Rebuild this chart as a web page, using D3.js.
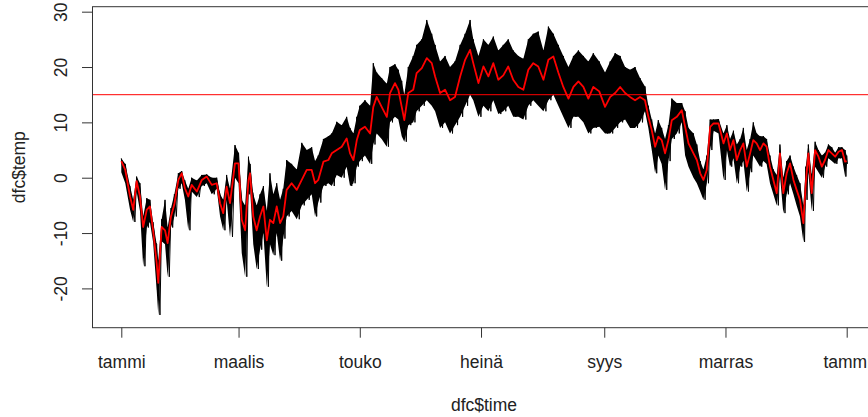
<!DOCTYPE html>
<html>
<head>
<meta charset="utf-8">
<script src="https://cdn.jsdelivr.net/npm/d3@7"></script>
<style>
  html, body { margin: 0; padding: 0; background: #fff; }
  svg { display: block; }
  text { font-family: "Liberation Sans", Arial, sans-serif; fill: #222; }
</style>
</head>
<body>
<svg id="chart" width="868" height="417"></svg>
<script>
// day of year (0 = 1 Jan)
var days = [0, 2, 4.4, 6, 7.7, 9.4, 11, 12.8, 14.4, 16, 17.8, 18.6, 20.3, 22, 23.3, 25, 26.7, 28.7, 30.4, 32, 33.7, 35.4, 38, 40.5, 43, 45.5, 48, 49.7, 51.3, 53, 54.7, 57.2, 59,
  60.6, 62.3, 64, 64.8, 66.4, 68.1, 69.8, 71.5, 73.2, 74.8, 76.5, 78.2, 79.9, 81.5, 83.2, 85.7, 88.3, 90.8, 93.3, 95.8, 97.5, 99.1, 101.7, 104.2, 105.9, 108.4, 110.9, 113.4, 115.1, 116.8, 118.5,
  120, 122.6, 125.2, 126.8, 128.5, 131, 133.6, 135.2, 137.7, 139.4, 141.1, 142.4, 144.4, 146.9, 148.6, 151.2, 153.7, 156.2, 157.9, 160.4, 162.9, 165.4, 167.9, 170.5, 173, 175.5, 177.1,
  179.7, 182.2, 184.7, 187.2, 189.7, 192.2, 194.7, 197.2, 199.8, 202.3, 204.8, 207.3, 209.8, 212.4, 214.9, 217.4, 219.9, 222.4, 225, 227.5, 230, 232.5, 235, 237.5, 240.5,
  243.4, 246, 248.5, 251, 253.5, 256, 258.5, 261, 263.5, 265.2, 266.9, 268.6, 270.2, 271.9, 273.6, 275.3, 277, 279.5, 282, 283.7, 285.4, 287.9, 289.6, 291.3, 292.9, 294.6, 296.3, 298, 300.5,
  303, 304.7, 306.3, 308, 309.7, 311.4, 313, 314.7, 316.4, 318, 319.7, 321.4, 323.1, 324.7, 326.4, 328.1, 329.8, 331.4, 333.1, 334.8, 336.5, 338.2, 339.8, 341.5, 343.2, 344.4, 345.7, 347.4, 349.1, 350.8, 352.5, 354.1, 355.8, 357.5, 359.2, 360.9, 362.6, 364.2, 365];

// smoothed temperature (red line)
var tMean = [3.0, 1.4, -3.4, -5.8, -0.6, -3.4, -8.9, -5.8, -5.2, -9.5, -15.4, -19.0, -8.9, -9.5, -11.8, -7.0, -4.8, -0.4, 0.8, -1.9, -3.4, -1.3, -2.5, -0.4, 0.2, -1.3, -1.0, -4.6, -6.4, -1.6, -4.6, 2.6, 2.6,
  -7.6, -9.5, -0.4, 0.8, -7.0, -9.5, -7.0, -5.2, -11.3, -7.6, -8.2, -5.2, -8.2, -7.0, -2.2, -1.0, -2.2, -0.4, 1.4, 1.4, -1.0, -0.4, 2.9, 3.2, 4.4, 5.0, 5.6, 7.1, 4.4, 3.2, 6.8,
  8.6, 9.2, 8.0, 12.8, 14.6, 12.8, 11.0, 15.3, 17.1, 15.9, 12.8, 10.4, 15.3, 15.9, 18.9, 19.8, 21.6, 20.7, 18.3, 15.3, 15.9, 14.0, 14.6, 18.3, 21.3, 23.1, 20.7,
  17.1, 20.1, 18.3, 20.7, 17.7, 18.5, 20.1, 17.7, 16.4, 15.9, 19.5, 20.7, 20.1, 17.7, 21.3, 21.9, 19.0, 16.4, 14.3, 16.4, 17.4, 16.4, 14.3, 16.4, 15.6,
  12.8, 14.6, 15.3, 16.4, 15.3, 14.6, 14.0, 14.6, 14.0, 11.0, 8.6, 5.6, 7.4, 6.8, 4.4, 6.8, 10.4, 11.0, 12.2, 9.2, 6.2, 4.4, 3.2, 0.8, -0.4, 1.4, 9.2, 9.8, 9.8,
  6.2, 8.0, 5.0, 6.8, 3.2, 5.0, 6.2, 2.0, 4.4, 6.8, 6.2, 5.0, 6.2, 5.6, 2.0, -0.4, -2.8, 4.4, -2.8, 0.8, 2.6, -0.4, -2.2, -4.0, -8.2, -1.0, 4.4, -2.8, 5.0, 3.8, 2.0, 3.2, 5.0, 4.4, 3.8, 4.7, 5.0, 2.9, 3.0];

// lower and upper edge of the hourly (black) trace
var tLow = [1.0, -1.0, -5.8, -8.0, -2.5, -6.0, -16.0, -9.0, -8.0, -11.6, -20.3, -24.8, -11.5, -12.0, -17.9, -9.0, -7.0, -2.0, -1.0, -4.0, -9.5, -2.5, -3.5, -1.5, -1.0, -3.0, -2.0, -7.0, -9.5, -4.0, -10.7, 0.0, -1.0,
  -13.6, -17.9, -3.0, -2.0, -12.0, -16.5, -13.0, -10.0, -19.7, -12.0, -14.0, -10.0, -15.0, -11.0, -7.0, -6.0, -7.5, -5.0, -4.0, -3.0, -7.0, -4.5, -1.5, -1.0, -1.5, 0.5, 0.0, 2.0, -1.5, -1.0, 2.0,
  3.0, 4.0, 2.5, 6.0, 8.0, 7.0, 5.6, 10.0, 11.0, 10.5, 7.5, 6.5, 9.5, 10.0, 12.0, 13.0, 14.0, 13.0, 12.0, 9.0, 10.0, 8.0, 9.5, 11.0, 13.0, 15.0, 14.0,
  11.0, 13.0, 12.0, 14.0, 11.5, 12.0, 13.0, 11.0, 11.0, 10.5, 13.0, 14.0, 13.0, 12.0, 14.0, 15.0, 13.0, 11.0, 9.0, 11.0, 11.0, 10.0, 8.0, 9.0, 9.2,
  8.0, 8.0, 9.0, 10.0, 10.5, 9.0, 9.0, 10.0, 12.0, 9.0, 5.0, 0.8, 4.0, 2.5, -2.2, 3.0, 7.0, 8.0, 10.0, 4.0, 2.0, 0.0, -1.0, -2.5, -4.0, -1.0, 5.0, 8.5, 8.0,
  -0.4, 5.0, 2.0, 3.5, -1.0, 2.0, 3.0, -2.5, 1.0, 4.0, 3.0, 2.0, 3.0, 2.5, -1.0, -3.0, -5.0, 0.5, -6.4, -3.0, -1.0, -3.0, -5.0, -7.0, -11.6, -4.0, 1.0, -6.0, 2.0, 1.0, 0.0, 2.0, 3.5, 3.0, 2.5, 3.5, 3.5, 0.2, 2.5];

var tHigh = [3.5, 2.5, -1.5, -4.0, 0.2, -1.0, -7.0, -3.7, -4.0, -8.0, -12.0, -15.0, -7.5, -4.0, -9.0, -5.5, -3.0, 0.8, 1.2, -0.5, -2.0, 0.0, -0.5, 0.5, 0.6, 0.0, 0.0, -3.0, -4.0, 0.5, -2.0, 5.9, 4.5,
  -4.0, -5.0, 3.8, 2.5, -3.0, -5.0, -3.0, -1.5, -6.0, 0.8, -3.0, -1.0, -4.0, -2.0, 3.2, 2.5, 1.5, 6.3, 5.0, 5.5, 3.0, 4.0, 7.0, 7.5, 8.0, 10.1, 9.5, 11.0, 9.0, 8.0, 11.0,
  13.0, 14.0, 13.0, 20.7, 19.0, 18.0, 17.0, 20.0, 20.5, 19.5, 17.5, 15.0, 20.0, 22.0, 24.0, 25.0, 28.5, 26.0, 24.0, 21.0, 22.0, 20.0, 21.0, 24.0, 26.0, 28.5, 25.0,
  22.0, 25.0, 24.0, 25.5, 23.0, 24.0, 25.0, 23.0, 22.0, 21.5, 25.0, 26.0, 26.4, 23.0, 27.3, 26.0, 24.0, 22.0, 20.0, 22.0, 23.0, 22.0, 21.0, 22.5, 21.0,
  19.0, 21.0, 22.5, 22.0, 20.0, 19.5, 20.0, 18.0, 16.5, 13.0, 10.5, 8.0, 10.4, 9.0, 7.0, 9.5, 14.3, 13.5, 13.5, 12.0, 9.0, 8.0, 6.0, 3.0, 1.5, 4.0, 10.5, 10.5, 10.6,
  8.0, 9.5, 7.0, 8.5, 6.0, 7.0, 9.0, 5.0, 7.0, 10.0, 8.0, 7.5, 7.5, 7.0, 4.0, 1.5, 0.5, 6.0, 0.0, 3.0, 4.0, 2.0, 0.5, -1.0, -5.0, 2.0, 6.0, 0.5, 6.5, 5.0, 4.0, 4.5, 6.0, 5.5, 4.5, 5.5, 5.5, 5.0, 4.0];

var yTicks = [-20, -10, 0, 10, 20, 30];
var monthLabels = ["tammi", "maalis", "touko", "heinä", "syys", "marras", "tammi"];
var refLine = 15;

var svg = d3.select("#chart");
var box = { left: 92, right: 876, top: 6.7, bottom: 327.7 };

var t0 = Date.UTC(2023, 0, 1);
function toDate(d) { return new Date(t0 + d * 864e5); }

var x = d3.scaleUtc()
    .domain([new Date(t0), new Date(Date.UTC(2024, 0, 1))])
    .range([121.3, 846.7]);
var y = d3.scaleLinear()
    .domain([-27.1, 30.9])
    .range([box.bottom, box.top]);

svg.append("clipPath").attr("id", "plotclip")
  .append("rect")
    .attr("x", box.left).attr("y", box.top)
    .attr("width", box.right - box.left).attr("height", box.bottom - box.top);

var plot = svg.append("g").attr("clip-path", "url(#plotclip)");

var pts = days.map(function (d, i) { return { d: d, m: tMean[i], lo: tLow[i], hi: tHigh[i] }; });

// hourly trace: band between daily extremes plus a zigzag for the spikes
var band = d3.area()
    .x(function (p) { return x(toDate(p.d)); })
    .y0(function (p) { return y(p.lo); })
    .y1(function (p) { return y(p.hi); });
plot.append("path").datum(pts)
    .attr("d", band)
    .attr("fill", "#000");

var zig = [];
pts.forEach(function (p, i) {
  var next = i < pts.length - 1 ? pts[i + 1].d : p.d + 0.8;
  zig.push({ d: p.d, v: p.hi });
  zig.push({ d: (p.d + next) / 2, v: p.lo });
});
plot.append("path").datum(zig)
    .attr("d", d3.line().x(function (p) { return x(toDate(p.d)); }).y(function (p) { return y(p.v); }))
    .attr("fill", "none")
    .attr("stroke", "#000")
    .attr("stroke-width", 1);

// smoothed line
plot.append("path").datum(pts)
    .attr("d", d3.line().x(function (p) { return x(toDate(p.d)); }).y(function (p) { return y(p.m); }))
    .attr("fill", "none")
    .attr("stroke", "#ff0000")
    .attr("stroke-width", 1.8)
    .attr("stroke-linejoin", "round");

// abline h = 15
plot.append("line")
    .attr("x1", box.left).attr("x2", box.right)
    .attr("y1", y(refLine)).attr("y2", y(refLine))
    .attr("stroke", "#ff0000")
    .attr("stroke-width", 1);

// frame
svg.append("rect")
    .attr("x", box.left + 0.5).attr("y", box.top)
    .attr("width", box.right - box.left).attr("height", box.bottom - box.top)
    .attr("fill", "none")
    .attr("stroke", "#333")
    .attr("stroke-width", 1);

// x axis
var monthTicks = d3.range(0, 13, 2).map(function (m) { return new Date(Date.UTC(2023, m, 1)); });
var xAxis = svg.append("g")
    .attr("transform", "translate(0," + box.bottom + ")")
    .call(d3.axisBottom(x).tickValues(monthTicks).tickSize(10)
      .tickFormat(function (d, i) { return monthLabels[i]; }));
xAxis.select(".domain").remove();
xAxis.selectAll("line").attr("stroke", "#333");
xAxis.selectAll("text")
    .attr("y", 40).attr("dy", null)
    .attr("fill", "#222")
    .style("font-size", "17.5px")
    .style("font-family", "'Liberation Sans', Arial, sans-serif");

// y axis (plain hyphen for negatives, as in R)
var yAxis = svg.append("g")
    .attr("transform", "translate(" + box.left + ",0)")
    .call(d3.axisLeft(y).tickValues(yTicks).tickSize(10)
      .tickFormat(function (d) { return String(d); }));
yAxis.select(".domain").remove();
yAxis.selectAll("line").attr("stroke", "#333");
yAxis.selectAll("text")
    .attr("x", null).attr("dy", null)
    .attr("transform", "translate(-25,0) rotate(-90)")
    .attr("text-anchor", "middle")
    .attr("fill", "#222")
    .style("font-size", "17.5px")
    .style("font-family", "'Liberation Sans', Arial, sans-serif");

// axis titles
svg.append("text")
    .attr("x", (box.left + box.right) / 2).attr("y", 411)
    .attr("text-anchor", "middle")
    .style("font-size", "17.5px")
    .text("dfc$time");
svg.append("text")
    .attr("transform", "translate(25," + (box.top + box.bottom) / 2 + ") rotate(-90)")
    .attr("text-anchor", "middle")
    .style("font-size", "17.5px")
    .text("dfc$temp");
</script>
</body>
</html>
